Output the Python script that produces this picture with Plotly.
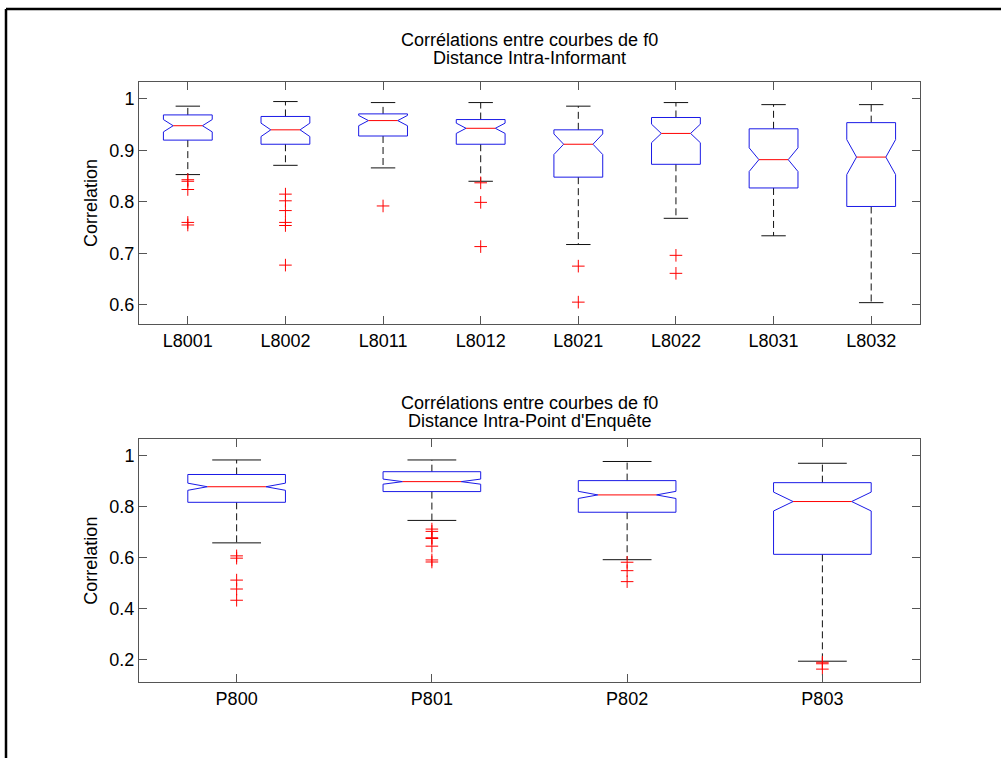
import plotly.graph_objects as go

# ---------------- data ----------------
top_labels = ["L8001", "L8002", "L8011", "L8012", "L8021", "L8022", "L8031", "L8032"]
top_lower = [0.853, 0.871, 0.866, 0.840, 0.717, 0.768, 0.734, 0.604]
top_q1 = [0.920, 0.912, 0.928, 0.912, 0.848, 0.873, 0.827, 0.791]
top_med = [0.948, 0.940, 0.958, 0.943, 0.912, 0.933, 0.882, 0.887]
top_q3 = [0.969, 0.966, 0.971, 0.960, 0.940, 0.964, 0.942, 0.954]
top_upper = [0.986, 0.995, 0.993, 0.993, 0.986, 0.993, 0.989, 0.989]
top_notch = [0.012, 0.013, 0.010, 0.010, 0.020, 0.018, 0.023, 0.034]
top_outliers = [
    [0.843, 0.840, 0.824, 0.760, 0.755],
    [0.815, 0.802, 0.783, 0.760, 0.754, 0.677],
    [0.792],
    [0.837, 0.799, 0.713],
    [0.675, 0.605],
    [0.696, 0.661],
    [],
    [],
]

bot_labels = ["P800", "P801", "P802", "P803"]
bot_lower = [0.658, 0.746, 0.592, 0.194]
bot_q1 = [0.817, 0.859, 0.778, 0.613]
bot_med = [0.878, 0.898, 0.846, 0.820]
bot_q3 = [0.926, 0.937, 0.902, 0.894]
bot_upper = [0.983, 0.983, 0.977, 0.970]
bot_notch = [0.014, 0.010, 0.014, 0.037]
bot_outliers = [
    [0.607, 0.598, 0.512, 0.477, 0.433],
    [0.712, 0.703, 0.678, 0.675, 0.645, 0.591, 0.583],
    [0.582, 0.549, 0.506],
    [0.190, 0.184, 0.163],
]

title_line1 = "Corrélations entre courbes de f0"
top_title_line2 = "Distance Intra-Informant"
bot_title_line2 = "Distance Intra-Point d'Enquête"
y_title = "Correlation"

# ---------------- styling ----------------
FONT = "Liberation Sans, Arial, sans-serif"
FS = 18
HALF_W = 0.25          # half box width (x units)
NOTCH_IN = 0.6         # notch inner half-width fraction
CAP = 0.5              # cap half width fraction of box half width
BLUE = "#1a1ae6"
RED = "#ff0000"
BLACK = "#111111"

fig = go.Figure()


def add_boxes(xaxis, yaxis, lower, q1, med, q3, upper, notch, outliers):
    bx, by, mx, my, wx, wy, cx, cy, ox, oy = [], [], [], [], [], [], [], [], [], []
    for i in range(len(med)):
        x = i + 1
        w = HALF_W
        wn = HALF_W * NOTCH_IN
        nlo = med[i] - notch[i]
        nhi = med[i] + notch[i]
        bx += [x - w, x - w, x - wn, x - w, x - w, x + w, x + w, x + wn, x + w, x + w, x - w, None]
        by += [q1[i], nlo, med[i], nhi, q3[i], q3[i], nhi, med[i], nlo, q1[i], q1[i], None]
        mx += [x - wn, x + wn, None]
        my += [med[i], med[i], None]
        wx += [x, x, None, x, x, None]
        wy += [q3[i], upper[i], None, q1[i], lower[i], None]
        cw = w * CAP
        cx += [x - cw, x + cw, None, x - cw, x + cw, None]
        cy += [upper[i], upper[i], None, lower[i], lower[i], None]
        for v in outliers[i]:
            ox.append(x)
            oy.append(v)
    common = dict(xaxis=xaxis, yaxis=yaxis, showlegend=False, hoverinfo="skip")
    fig.add_trace(go.Scatter(x=wx, y=wy, mode="lines",
                             line=dict(color=BLACK, width=1, dash="7px,4px"), **common))
    fig.add_trace(go.Scatter(x=cx, y=cy, mode="lines",
                             line=dict(color=BLACK, width=1), **common))
    fig.add_trace(go.Scatter(x=bx, y=by, mode="lines",
                             line=dict(color=BLUE, width=1), **common))
    fig.add_trace(go.Scatter(x=mx, y=my, mode="lines",
                             line=dict(color=RED, width=1), **common))
    fig.add_trace(go.Scatter(x=ox, y=oy, mode="markers",
                             marker=dict(symbol="cross-thin", size=9,
                                         line=dict(color=RED, width=1), color=RED),
                             **common))


add_boxes("x", "y", top_lower, top_q1, top_med, top_q3, top_upper, top_notch, top_outliers)
add_boxes("x2", "y2", bot_lower, bot_q1, bot_med, bot_q3, bot_upper, bot_notch, bot_outliers)

axis_common = dict(showgrid=False, zeroline=False, showline=True, linecolor="#555",
                   linewidth=1, mirror="ticks", ticks="inside", ticklen=8,
                   tickcolor="#555", tickwidth=1,
                   tickfont=dict(family=FONT, size=FS, color="black"))

L, R, T, B = 139, 81, 82, 76
W, H = 1001, 758
PW = W - L - R
PH = H - T - B


def px_x(p):
    return (p - L) / PW


def px_y(p):
    return (H - B - p) / PH


fig.update_layout(
    width=W, height=H,
    margin=dict(l=L, r=R, t=T, b=B, pad=0),
    paper_bgcolor="white", plot_bgcolor="white",
    xaxis=dict(domain=[0, 1], range=[0.5, len(top_labels) + 0.5],
               tickvals=list(range(1, len(top_labels) + 1)), ticktext=top_labels,
               anchor="y", **axis_common),
    yaxis=dict(domain=[px_y(324), 1], range=[0.5625, 1.033],
               tickvals=[0.6, 0.7, 0.8, 0.9, 1.0], ticktext=["0.6", "0.7", "0.8", "0.9", "1"],
               anchor="x", **axis_common),
    xaxis2=dict(domain=[0, 1], range=[0.5, len(bot_labels) + 0.5],
                tickvals=list(range(1, len(bot_labels) + 1)), ticktext=bot_labels,
                anchor="y2", **axis_common),
    yaxis2=dict(domain=[0, px_y(439.3)], range=[0.1125, 1.064],
                tickvals=[0.2, 0.4, 0.6, 0.8, 1.0], ticktext=["0.2", "0.4", "0.6", "0.8", "1"],
                anchor="x2", **axis_common),
)

ann_font = dict(family=FONT, size=FS, color="black")
anns = [
    (title_line1, 40), (top_title_line2, 58),
    (title_line1, 403), (bot_title_line2, 421),
]
for txt, py in anns:
    fig.add_annotation(text=txt, xref="paper", yref="paper", x=0.5, y=px_y(py),
                       xanchor="center", yanchor="middle", showarrow=False, font=ann_font)
for py in [(82 + 324) / 2, (439.3 + 682) / 2]:
    fig.add_annotation(text=y_title, xref="paper", yref="paper", x=px_x(91), y=px_y(py),
                       xanchor="center", yanchor="middle", textangle=-90,
                       showarrow=False, font=ann_font)

# page frame of the document (top and left edges only are visible)
frame = dict(color="black", width=2.5)
fig.add_shape(type="line", xref="paper", yref="paper",
              x0=px_x(6), x1=px_x(1001), y0=px_y(9), y1=px_y(9), line=frame, layer="above")
fig.add_shape(type="line", xref="paper", yref="paper",
              x0=px_x(6), x1=px_x(6), y0=px_y(9), y1=px_y(760), line=frame, layer="above")

fig.write_html("out.html", config={"displayModeBar": False},
               post_script="document.body.style.margin='0';document.body.style.overflow='hidden';")
